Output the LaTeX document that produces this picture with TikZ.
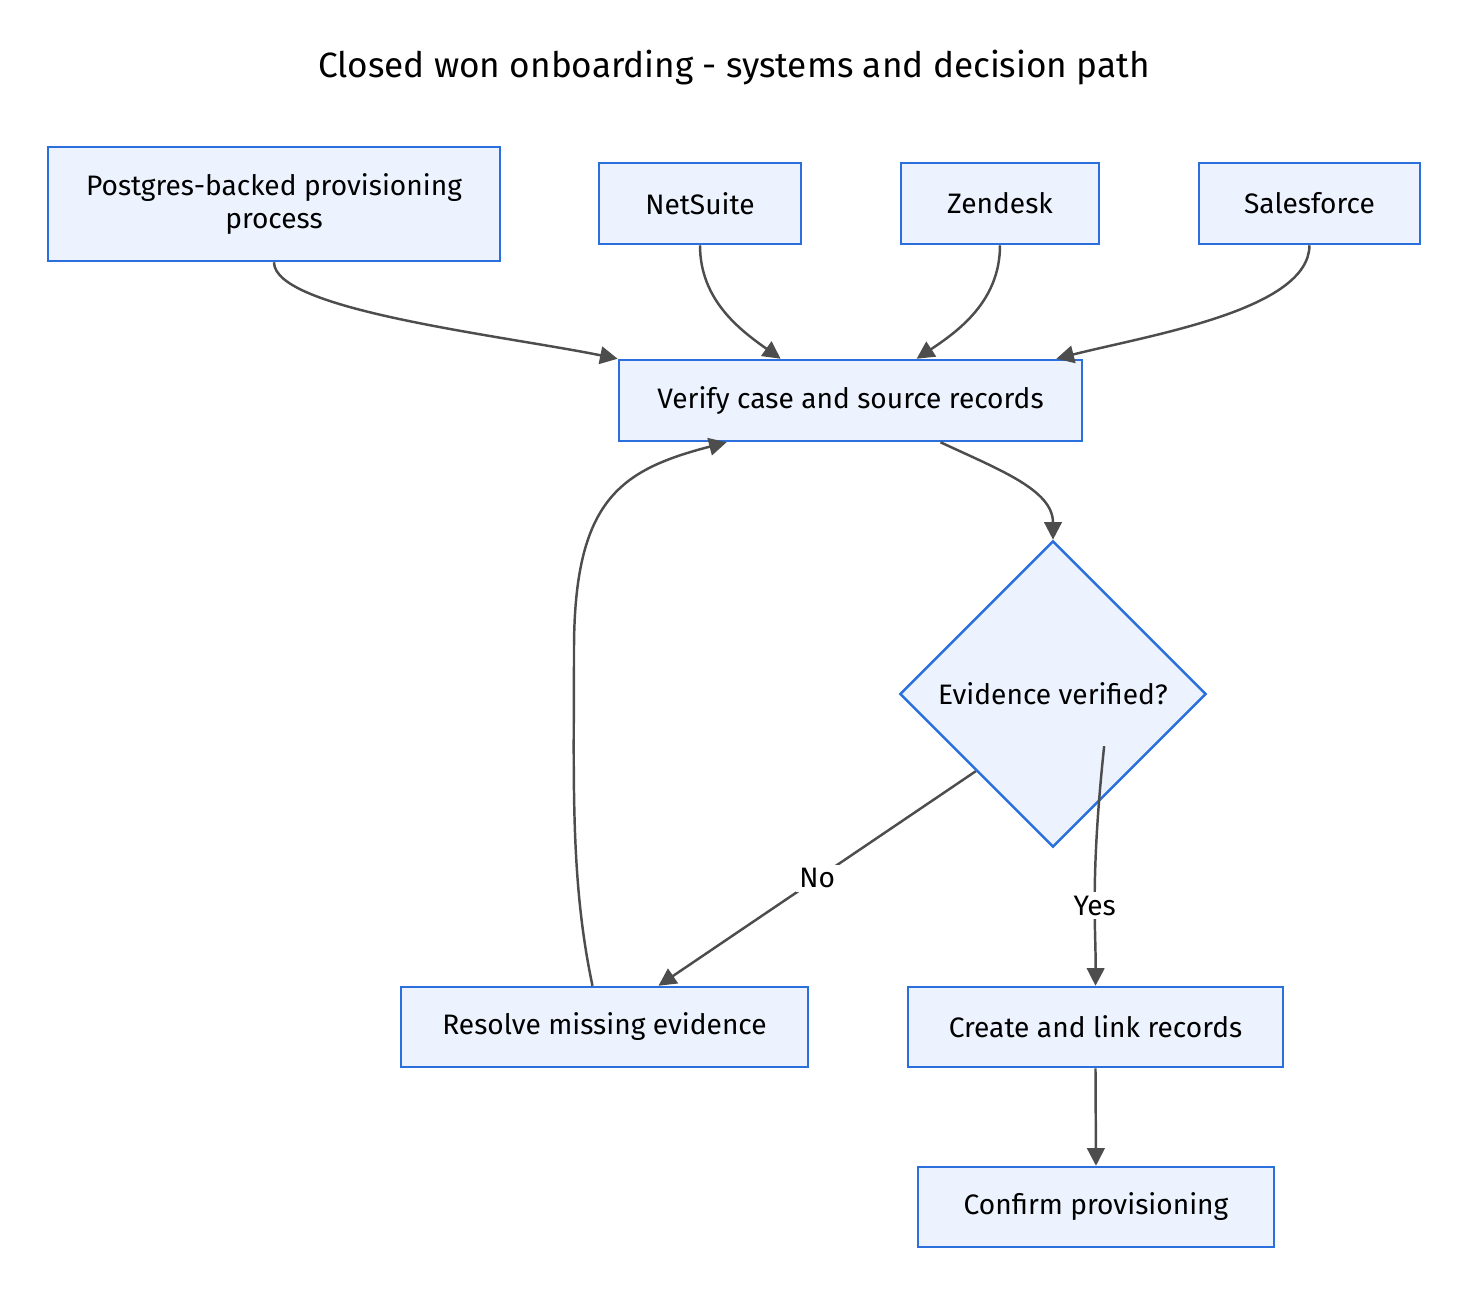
\documentclass[tikz,border=0pt]{standalone}
\usepackage{fontspec}
\setmainfont{Fira Sans}
\usetikzlibrary{shapes.geometric,arrows.meta,calc}
\definecolor{boxfill}{HTML}{ECF3FE}
\definecolor{boxline}{HTML}{2A6FDB}
\definecolor{edge}{HTML}{4D4D4D}
\tikzset{
  box/.style={draw=boxline, fill=boxfill, line width=0.7pt, align=center, inner sep=0pt, font=\fontsize{8}{9.6}\selectfont},
  flow/.style={draw=edge, line width=0.7pt, -{Triangle[length=5pt,width=5pt]}},
  lbl/.style={font=\fontsize{8}{9.6}\selectfont, fill=white, inner sep=1pt}
}
\begin{document}
\begin{tikzpicture}[x=0.01cm, y=-0.01cm]
		\useasboundingbox (0,0) rectangle (1468,1296);
		\node[font=\fontsize{10}{12}\selectfont] (title) at (734,68) {Closed won onboarding - systems and decision path};
		% sources
		\node[box, minimum width=4.52cm, minimum height=1.14cm] (pg) at (274,204) {Postgres-backed provisioning\\process};
		\node[box, minimum width=2.02cm, minimum height=0.81cm] (ns) at (700,203.5) {NetSuite};
		\node[box, minimum width=1.98cm, minimum height=0.81cm] (zd) at (1000,203.5) {Zendesk};
		\node[box, minimum width=2.21cm, minimum height=0.81cm] (sf) at (1309.5,203.5) {Salesforce};
		% flow
		\node[box, minimum width=4.63cm, minimum height=0.81cm] (verify) at (850.5,400.5) {Verify case and source records};
		\node[box, diamond, minimum width=3.06cm, minimum height=3.06cm] (ok) at (1053,694) {Evidence verified?};
		\node[box, minimum width=4.07cm, minimum height=0.80cm] (resolve) at (604.5,1027) {Resolve missing evidence};
		\node[box, minimum width=3.75cm, minimum height=0.80cm] (create) at (1095.5,1027) {Create and link records};
		\node[box, minimum width=3.56cm, minimum height=0.80cm] (confirm) at (1096,1207) {Confirm provisioning};
		% connectors
		\draw[flow] (pg.south) .. controls (274,310) and (500,335) .. (verify.north west);
		\draw[flow] (ns.south) .. controls (700,300) and (740,330) .. ($(verify.north west)+(163,0)$);
		\draw[flow] (zd.south) .. controls (1000,300) and (960,330) .. ($(verify.north west)+(299,0)$);
		\draw[flow] (sf.south) .. controls (1309,310) and (1150,335) .. ($(verify.north east)+(-27,0)$);
		\draw[flow] ($(verify.south)+(90,0)$) .. controls (1000,470) and (1053,490) .. (ok.north);
		\draw[flow] (ok.south west) -- node[lbl, pos=0.5] {No} ($(resolve.north)+(54,0)$);
		\draw[flow] ($(ok.south east)+(-26,-25)$) .. controls (1090,880) and (1096,930) .. node[lbl, pos=0.55] {Yes} (create.north);
		\draw[flow] ($(resolve.north)+(-12,0)$) .. controls (570,880) and (574,780) .. (574,650) .. controls (574,500) and (620,470) .. ($(verify.south west)+(109,0)$);
		\draw[flow] (create.south) -- (confirm.north);
\end{tikzpicture}
\end{document}
